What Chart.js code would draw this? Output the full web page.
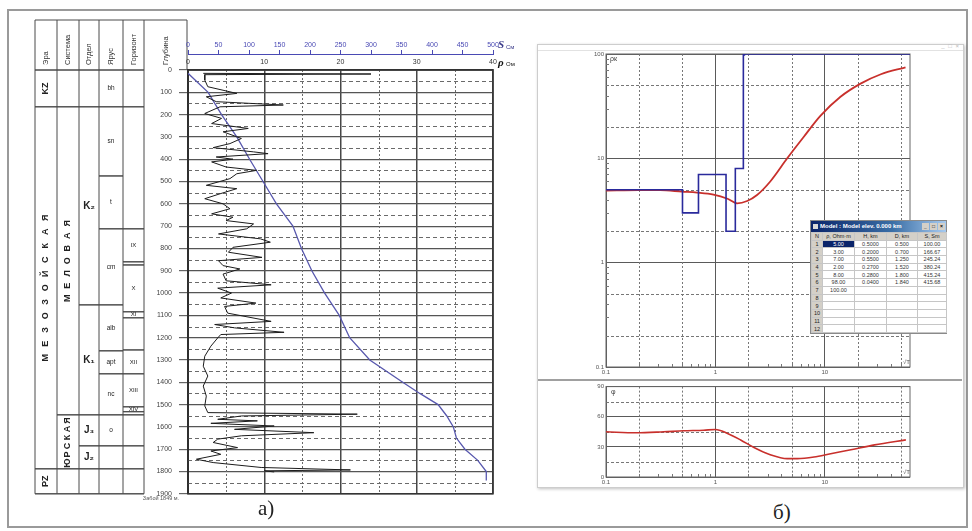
<!DOCTYPE html>
<html>
<head>
<meta charset="utf-8">
<script src="https://cdn.jsdelivr.net/npm/chart.js@4.4.1/dist/chart.umd.min.js"></script>
<style>
  html, body { margin: 0; padding: 0; background: #fff; width: 972px; height: 531px; overflow: hidden;
    font-family: "Liberation Sans", Arial, sans-serif; }
  #frame { position: absolute; left: 7px; top: 9px; width: 957px; height: 515px; border: 2px solid #9a9a9a; }
  .box { position: absolute; }
  #logBox { left: 0; top: 0; width: 530px; height: 505px; }
  #win { position: absolute; left: 537px; top: 44px; width: 425px; height: 442px; background: #fff;
    border: 1px solid #cdcdcd; box-shadow: 1px 1px 3px rgba(0,0,0,0.25); }
  #winBar { position: absolute; left: 0; top: 0; right: 0; height: 5px; border-bottom: 1px solid #e2e2e2; }
  #winBtns { position: absolute; right: 3px; top: -2px; font-size: 6px; color: #b8b8b8; letter-spacing: 1px; }
  #rhoBox { left: 540px; top: 46px; width: 420px; height: 334px; }
  #sep { position: absolute; left: 538px; top: 379px; width: 424px; height: 2px; background: #a0a0a0; }
  #phiBox { left: 540px; top: 381px; width: 420px; height: 104px; }
  .cap { position: absolute; font-family: "Liberation Serif", "DejaVu Serif", serif; font-size: 21px; color: #222; }
  #model { position: absolute; left: 810px; top: 220px; width: 137px; background: #d4d0c8;
    border: 1px solid #8a8a8a; box-sizing: border-box; }
  #mTitle { position: relative; height: 11px; line-height: 11px; font-size: 6px; font-weight: bold; color: #fff;
    padding-left: 9px; white-space: nowrap; overflow: hidden;
    background: linear-gradient(90deg, #0a246a 0%, #3a6ea5 60%, #a6caf0 100%); }
  #mTitle .ico { position: absolute; left: 2px; top: 3px; width: 5px; height: 5px; background: #d8d8d8; }
  #mTitle .btns { position: absolute; right: 1px; top: 2px; height: 7px; }
  #mTitle .btns span { display: inline-block; width: 7px; height: 7px; margin-left: 1px; background: #d4d0c8;
    color: #000; font-size: 5px; line-height: 7px; text-align: center; vertical-align: top; }
  #mTable { border-collapse: collapse; table-layout: fixed; width: 135px; font-size: 5.5px; color: #333; }
  #mTable td { height: 6.7px; line-height: 6px; padding: 0; border: 1px solid #c6c6c6; text-align: center;
    background: #fff; white-space: nowrap; overflow: hidden; }
  #mTable tr.head td, #mTable td.n { background: #d4d0c8; color: #222; }
  #mTable td.sel { background: #0a246a; color: #fff; }
</style>
</head>
<body>
<div id="frame"></div>
<div class="box" id="logBox"><canvas id="logChart"></canvas></div>
<div id="win"><div id="winBar"><span id="winBtns">_ □ ×</span></div></div>
<div class="box" id="rhoBox"><canvas id="rhoChart"></canvas></div>
<div id="sep"></div>
<div class="box" id="phiBox"><canvas id="phiChart"></canvas></div>
<div id="model">
  <div id="mTitle"><span class="ico"></span>Model : Model elev. 0.000 km<span class="btns"><span>_</span><span>□</span><span>×</span></span></div>
  <table id="mTable"></table>
</div>
<div class="cap" style="left:258px; top:496px;">а)</div>
<div class="cap" style="left:773px; top:500px;">б)</div>

<script>
// ---------- well log (a) ----------
const rhoDepth = [15, 18, 21, 45, 75, 105, 120, 142, 157, 165, 195, 217, 240, 262, 277, 307, 330, 348, 367, 375,
  390, 400, 412, 435, 450, 465, 487, 517, 532, 555, 577, 600, 622, 645, 660, 675, 690, 712, 735, 757,
  772, 795, 817, 840, 855, 877, 892, 915, 945, 963, 978, 1000, 1022, 1045, 1060, 1090, 1127, 1141, 1156, 1176,
  1186, 1201, 1238, 1283, 1328, 1372, 1417, 1462, 1506, 1536, 1543, 1551, 1566, 1573, 1584, 1596, 1611, 1626, 1640, 1655,
  1670, 1693, 1708, 1723, 1745, 1760, 1782, 1793, 1797, 1802];
const rhoValue = [2.0, 24, 2.2, 2.2, 2.6, 6.4, 2.4, 3.7, 12.5, 4.2, 2.2, 4.4, 3.1, 7.9, 4.6, 7.0, 5.5, 3.3, 8.6, 10.5,
  3.7, 5.9, 3.1, 5.0, 9.0, 6.4, 5.5, 2.4, 6.4, 4.2, 2.2, 4.6, 5.5, 3.1, 5.9, 5.0, 8.6, 7.7, 4.0, 9.5,
  10.8, 5.9, 5.3, 9.7, 4.0, 4.6, 6.8, 4.6, 5.0, 10.9, 3.9, 5.7, 4.3, 8.9, 4.8, 5.2, 10.9, 3.5, 6.1, 12.6,
  4.3, 3.9, 3.0, 2.2, 2.0, 2.6, 2.0, 2.4, 2.2, 2.6, 22.2, 7.0, 3.9, 9.1, 3.0, 11.3, 6.1, 16.5, 7.0, 3.9,
  3.3, 6.5, 3.0, 4.3, 1.1, 3.3, 9.6, 21.3, 10.0, 11.3];
const sDepth = [15, 100, 200, 300, 400, 500, 600, 700, 800, 900, 1000, 1100, 1200, 1300, 1400, 1450, 1500, 1550, 1600, 1650, 1700, 1750, 1800, 1840];
const sValue = [0, 33, 55, 80, 101, 123, 145, 172, 186, 203, 224, 248, 265, 298, 352, 380, 410, 424, 435, 440, 454, 475, 489, 489];

const columnTitles = ['Эра', 'Система', 'Отдел', 'Ярус', 'Горизонт', 'Глубина'];
const eraUnits = [['KZ', 0, 165], ['МЕЗОЗОЙСКАЯ', 165, 1788], ['PZ', 1788, 1900]];
const systemUnits = [['', 0, 165], ['МЕЛОВАЯ', 165, 1546], ['ЮРСКАЯ', 1546, 1788], ['', 1788, 1900]];
const seriesUnits = [['', 0, 165], ['K₂', 165, 1053], ['K₁', 1053, 1546], ['J₃', 1546, 1685], ['J₂', 1685, 1788], ['', 1788, 1900]];
const stageUnits = [['bh', 0, 165], ['sn', 165, 475], ['t', 475, 712], ['cm', 712, 1053], ['alb', 1053, 1259],
  ['apt', 1259, 1362], ['nc', 1362, 1546], ['o', 1546, 1685], ['', 1685, 1788], ['', 1788, 1900]];
const horizonUnits = [['', 0, 165], ['', 165, 712], ['IX', 712, 860], ['', 860, 874], ['X', 874, 1084], ['XI', 1084, 1111],
  ['', 1111, 1255], ['XII', 1255, 1362], ['XIII', 1362, 1510], ['XIV', 1510, 1532], ['', 1532, 1546],
  ['', 1546, 1685], ['', 1685, 1788], ['', 1788, 1900]];
const wellBottom = 'Забой 1849 м.';

// ---------- sounding curves (б) ----------
const sqrtTMin = 0.1, sqrtTMax = 60;
const rhoKT = [0.1, 0.2, 0.313, 0.495, 0.68, 0.96, 1.29, 1.58, 1.95, 2.4, 3.17, 4.53, 6.4, 9.1, 13.9, 21.2, 32.5, 54.6];
const rhoK = [4.9, 4.95, 4.95, 4.8, 4.7, 4.5, 4.1, 3.7, 3.9, 4.45, 6.0, 10, 16, 25.5, 38.9, 52, 64, 74.5];
const phiT = [0.1, 0.19, 0.336, 0.51, 0.78, 1.0, 1.29, 1.7, 2.25, 3.17, 4.53, 5.6, 7.96, 11.3, 17.3, 28.5, 55];
const phi = [45, 44, 45, 46, 46.6, 47.3, 43.4, 36.9, 29.4, 22.2, 18.3, 18.3, 19.9, 23.2, 27.1, 32, 37];
const modelRho = [5, 3, 7, 2, 8, 98, 100];
const modelH = [0.5, 0.2, 0.55, 0.27, 0.28, 0.04];
const modelD = [0.5, 0.7, 1.25, 1.52, 1.8, 1.84];
const modelS = [100, 166.67, 245.24, 380.24, 415.24, 415.68];
const modelHeader = ['N', 'ρ, Ohm·m', 'H, km', 'D, km', 'S, Sm'];

Chart.defaults.font.family = '"Liberation Sans", Arial, sans-serif';
Chart.defaults.animation = false;

// dashed minor grid, frame, small log ticks and notes
const paneDecor = {
  id: 'paneDecor',
  beforeDatasetsDraw(chart, args, o) {
    const { ctx, chartArea: a, scales } = chart;
    ctx.save();
    ctx.beginPath();
    ctx.rect(a.left, a.top, a.right - a.left, a.bottom - a.top);
    ctx.clip();
    ctx.lineWidth = 1;
    ctx.strokeStyle = o.dashColor;
    ctx.setLineDash(o.xDash);
    (o.xMinor || []).forEach(v => {
      const p = Math.round(scales.x.getPixelForValue(v)) + 0.5;
      ctx.beginPath(); ctx.moveTo(p, a.top); ctx.lineTo(p, a.bottom); ctx.stroke();
    });
    ctx.setLineDash(o.yDash);
    (o.yMinor || []).forEach(v => {
      const p = Math.round(scales.y.getPixelForValue(v)) + 0.5;
      ctx.beginPath(); ctx.moveTo(a.left, p); ctx.lineTo(a.right, p); ctx.stroke();
    });
    ctx.restore();

    ctx.save();
    ctx.strokeStyle = o.frameColor;
    ctx.lineWidth = o.frameWidth;
    ctx.strokeRect(a.left, a.top, a.right - a.left, a.bottom - a.top);
    ctx.lineWidth = 1;
    ctx.strokeStyle = '#777';
    const logTicks = (scale, horizontal) => {
      for (let dec = scale.min; dec < scale.max; dec *= 10) {
        for (let k = 2; k <= 9; k++) {
          const v = dec * k;
          if (v >= scale.max) break;
          const p = Math.round(scale.getPixelForValue(v)) + 0.5;
          ctx.beginPath();
          if (horizontal) { ctx.moveTo(p, a.bottom); ctx.lineTo(p, a.bottom - 3); }
          else { ctx.moveTo(a.left, p); ctx.lineTo(a.left + 3, p); }
          ctx.stroke();
        }
      }
    };
    if (o.logTicksX) logTicks(scales.x, true);
    if (o.logTicksY) logTicks(scales.y, false);
    (o.notes || []).forEach(n => {
      ctx.font = n.font;
      ctx.fillStyle = n.color;
      ctx.textAlign = n.align || 'left';
      ctx.textBaseline = 'middle';
      ctx.fillText(n.text, (n.fromRight ? a.right : a.left) + n.dx, (n.fromBottom ? a.bottom : a.top) + n.dy);
    });
    ctx.restore();
  }
};

// stratigraphic columns to the left of the log, placed on the depth scale
const strataTable = {
  id: 'strataTable',
  beforeDraw(chart) {
    const { ctx, chartArea: a, scales: { y } } = chart;
    const colX = [35, 57, 79, 99, 123, 144, 187];
    const headTop = 20;
    const yy = d => y.getPixelForValue(d);
    ctx.save();
    ctx.strokeStyle = '#4a4a4a';
    ctx.lineWidth = 1;
    const line = (x1, y1, x2, y2) => { ctx.beginPath(); ctx.moveTo(x1, y1); ctx.lineTo(x2, y2); ctx.stroke(); };

    // header
    line(colX[0], headTop, colX[6], headTop);
    line(colX[0], a.top, colX[5], a.top);
    line(colX[6], headTop, colX[6], a.top);
    colX.slice(0, 6).forEach(x => line(x, headTop, x, yy(1900)));
    line(colX[0], yy(1900), colX[5], yy(1900));
    ctx.fillStyle = '#333';
    ctx.font = '7.5px "Liberation Sans", Arial, sans-serif';
    ctx.textAlign = 'left';
    ctx.textBaseline = 'middle';
    columnTitles.forEach((t, i) => {
      ctx.save();
      ctx.translate((colX[i] + colX[i + 1]) / 2, a.top - 5);
      ctx.rotate(-Math.PI / 2);
      ctx.fillText(t, 0, 0);
      ctx.restore();
    });
    ctx.textAlign = 'center';

    const spaced = { 'МЕЗОЗОЙСКАЯ': 14, 'МЕЛОВАЯ': 12.5, 'ЮРСКАЯ': 8.5 };
    const columns = [
      { units: eraUnits, rotate: true, font: 'bold 9px "Liberation Sans", Arial, sans-serif' },
      { units: systemUnits, rotate: true, font: 'bold 9px "Liberation Sans", Arial, sans-serif' },
      { units: seriesUnits, rotate: false, font: 'bold 10px "Liberation Sans", Arial, sans-serif' },
      { units: stageUnits, rotate: false, font: '6.5px "Liberation Sans", Arial, sans-serif' },
      { units: horizonUnits, rotate: false, font: '6px "Liberation Sans", Arial, sans-serif' }
    ];
    columns.forEach((col, ci) => {
      const x0 = colX[ci], x1 = colX[ci + 1];
      col.units.forEach(([name, top, base]) => {
        const t = yy(top), b = yy(base);
        line(x0, t, x1, t);
        line(x0, b, x1, b);
        if (!name) return;
        ctx.font = col.font;
        ctx.fillStyle = '#222';
        const cx = (x0 + x1) / 2, cy = (t + b) / 2;
        ctx.save();
        ctx.translate(cx, cy);
        if (col.rotate) ctx.rotate(-Math.PI / 2);
        const sp = spaced[name];
        if (sp) {
          const chars = Array.from(name);
          chars.forEach((ch, k) => ctx.fillText(ch, (k - (chars.length - 1) / 2) * sp, 0));
        } else {
          ctx.fillText(name, 0, 0);
        }
        ctx.restore();
      });
    });
    ctx.font = '5.5px "Liberation Sans", Arial, sans-serif';
    ctx.fillStyle = '#555';
    ctx.fillText(wellBottom, 161, yy(1900) + 5);

    // axis names
    ctx.textAlign = 'left';
    ctx.fillStyle = '#3a3a8a';
    ctx.font = 'italic bold 11px "Liberation Serif", serif';
    ctx.fillText('S', a.right + 5, 45);
    ctx.font = '6px "Liberation Sans", Arial, sans-serif';
    ctx.fillText('См', a.right + 13, 47);
    ctx.fillStyle = '#111';
    ctx.font = 'italic bold 11px "Liberation Serif", serif';
    ctx.fillText('ρ', a.right + 5, 63);
    ctx.font = '6px "Liberation Sans", Arial, sans-serif';
    ctx.fillText('Ом', a.right + 13, 64);
    ctx.restore();
  }
};

new Chart(document.getElementById('logChart'), {
  type: 'scatter',
  data: {
    datasets: [
      { label: 'ρ', data: rhoDepth.map((d, i) => ({ x: rhoValue[i], y: d })), xAxisID: 'x', yAxisID: 'y',
        showLine: true, borderColor: '#1c1c1c', borderWidth: 1, pointRadius: 0 },
      { label: 'S', data: sDepth.map((d, i) => ({ x: sValue[i], y: d })), xAxisID: 'xS', yAxisID: 'y',
        showLine: true, borderColor: '#5858ae', borderWidth: 1.3, pointRadius: 0 }
    ]
  },
  options: {
    responsive: true,
    maintainAspectRatio: false,
    layout: { padding: { left: 144, top: 30, right: 37, bottom: 11 } },
    plugins: {
      legend: { display: false },
      tooltip: { enabled: false },
      paneDecor: { dashColor: '#6a6a6a', xDash: [2, 2], yDash: [4, 3],
        xMinor: [5, 15, 25, 35], yMinor: [50, 150, 250, 350, 450, 550, 650, 750, 850, 950, 1050, 1150, 1250, 1350, 1450, 1550, 1650, 1750, 1850],
        frameColor: '#333', frameWidth: 1.5 }
    },
    scales: {
      x: {
        type: 'linear', position: 'top', min: 0, max: 40, weight: 0,
        afterFit: s => { s.height = 16; },
        ticks: { stepSize: 10, font: { size: 7 }, color: '#333', padding: 4, autoSkip: false, maxRotation: 0, callback: v => String(v) },
        grid: { color: '#474747', lineWidth: 1.5, drawTicks: false },
        border: { color: '#333', width: 1.5 }
      },
      xS: {
        type: 'linear', position: 'top', min: 0, max: 500, weight: 1,
        afterFit: s => { s.height = 24; },
        ticks: { stepSize: 50, font: { size: 7 }, color: '#4a4ab4', padding: 1, autoSkip: false, maxRotation: 0, callback: v => String(v) },
        grid: { drawOnChartArea: false, tickLength: 4, tickColor: '#4a4ab4' },
        border: { color: '#4a4ab4', width: 1 }
      },
      y: {
        type: 'linear', position: 'left', reverse: true, min: 0, max: 1900,
        afterFit: s => { s.width = 44; },
        ticks: { stepSize: 100, font: { size: 7 }, color: '#444', padding: 7, autoSkip: false, callback: v => String(v) },
        grid: { color: '#555', lineWidth: 1.2, tickLength: 9, tickColor: '#666' },
        border: { color: '#222', width: 2 }
      }
    }
  },
  plugins: [strataTable, paneDecor]
});

// ---------- right panel ----------
const logAxis = (labels, size) => ({
  type: 'logarithmic',
  afterBuildTicks: s => { s.ticks = labels.map(v => ({ value: v })); },
  ticks: { callback: v => String(v), font: { size: 6 }, color: '#555', padding: 2, autoSkip: false, maxRotation: 0 },
  grid: { color: '#5a5a5a', lineWidth: 1, drawTicks: false },
  border: { display: false },
  afterFit: size
});

const modelSteps = [{ x: sqrtTMin, y: modelRho[0] }]
  .concat(modelD.map((d, i) => ({ x: d, y: modelRho[i + 1] })))
  .concat([{ x: sqrtTMax, y: modelRho[modelRho.length - 1] }]);

new Chart(document.getElementById('rhoChart'), {
  type: 'scatter',
  data: {
    datasets: [
      { label: 'model', data: modelSteps, showLine: true, stepped: true, borderColor: '#2a2a9c', borderWidth: 1.6, pointRadius: 0 },
      { label: 'ρk', data: rhoKT.map((t, i) => ({ x: t, y: rhoK[i] })), showLine: true, cubicInterpolationMode: 'monotone',
        borderColor: '#c8302c', borderWidth: 1.8, pointRadius: 0 }
    ]
  },
  options: {
    responsive: true,
    maintainAspectRatio: false,
    layout: { padding: { left: 0, top: 8, right: 50, bottom: 0 } },
    plugins: {
      legend: { display: false },
      tooltip: { enabled: false },
      paneDecor: { dashColor: '#777', xDash: [2, 2], yDash: [3, 2],
        xMinor: [0.2, 0.5, 2, 5, 20, 50], yMinor: [0.2, 0.5, 2, 5, 20, 50],
        frameColor: '#666', frameWidth: 1, logTicksX: true, logTicksY: true,
        notes: [
          { text: 'ρк', font: '7px "Liberation Sans", Arial', color: '#444', dx: 4, dy: 5 },
          { text: '√T', font: '6px "Liberation Sans", Arial', color: '#555', dx: -7, dy: -5, fromRight: true, fromBottom: true }
        ] }
    },
    scales: {
      x: Object.assign(logAxis([0.1, 1, 10], s => { s.height = 13; }), { min: sqrtTMin, max: sqrtTMax }),
      y: Object.assign(logAxis([0.1, 1, 10, 100], s => { s.width = 66; }), { min: 0.1, max: 100 })
    }
  },
  plugins: [paneDecor]
});

new Chart(document.getElementById('phiChart'), {
  type: 'scatter',
  data: {
    datasets: [
      { label: 'φ', data: phiT.map((t, i) => ({ x: t, y: phi[i] })), showLine: true, cubicInterpolationMode: 'monotone',
        borderColor: '#c8302c', borderWidth: 1.6, pointRadius: 0 }
    ]
  },
  options: {
    responsive: true,
    maintainAspectRatio: false,
    layout: { padding: { left: 0, top: 2, right: 50, bottom: 0 } },
    plugins: {
      legend: { display: false },
      tooltip: { enabled: false },
      paneDecor: { dashColor: '#777', xDash: [2, 2], yDash: [3, 2],
        xMinor: [0.2, 0.5, 2, 5, 20, 50], yMinor: [15, 45, 75],
        frameColor: '#666', frameWidth: 1, logTicksX: true,
        notes: [
          { text: 'φ', font: '7px "Liberation Sans", Arial', color: '#444', dx: 5, dy: 5 },
          { text: '√T', font: '6px "Liberation Sans", Arial', color: '#555', dx: -7, dy: -5, fromRight: true, fromBottom: true }
        ] }
    },
    scales: {
      x: Object.assign(logAxis([0.1, 1, 10], s => { s.height = 8; }), { min: sqrtTMin, max: sqrtTMax }),
      y: {
        type: 'linear', min: 0, max: 90,
        afterFit: s => { s.width = 66; },
        ticks: { stepSize: 30, font: { size: 6 }, color: '#555', padding: 2 },
        grid: { color: '#5a5a5a', lineWidth: 1, drawTicks: false },
        border: { display: false }
      }
    }
  },
  plugins: [paneDecor]
});

// model parameters window
const mTable = document.getElementById('mTable');
const widths = [11, 32, 32, 31, 29];
let html = '<colgroup>' + widths.map(w => '<col style="width:' + w + 'px">').join('') + '</colgroup>';
html += '<tr class="head">' + modelHeader.map(h => '<td>' + h + '</td>').join('') + '</tr>';
const fmt = (arr, i, n) => (arr[i] === undefined ? '' : arr[i].toFixed(n));
for (let i = 0; i < 12; i++) {
  html += '<tr><td class="n">' + (i + 1) + '</td>' +
    '<td' + (i === 0 ? ' class="sel"' : '') + '>' + fmt(modelRho, i, 2) + '</td>' +
    '<td>' + fmt(modelH, i, 4) + '</td><td>' + fmt(modelD, i, 3) + '</td><td>' + fmt(modelS, i, 2) + '</td></tr>';
}
mTable.innerHTML = html;
</script>
</body>
</html>
